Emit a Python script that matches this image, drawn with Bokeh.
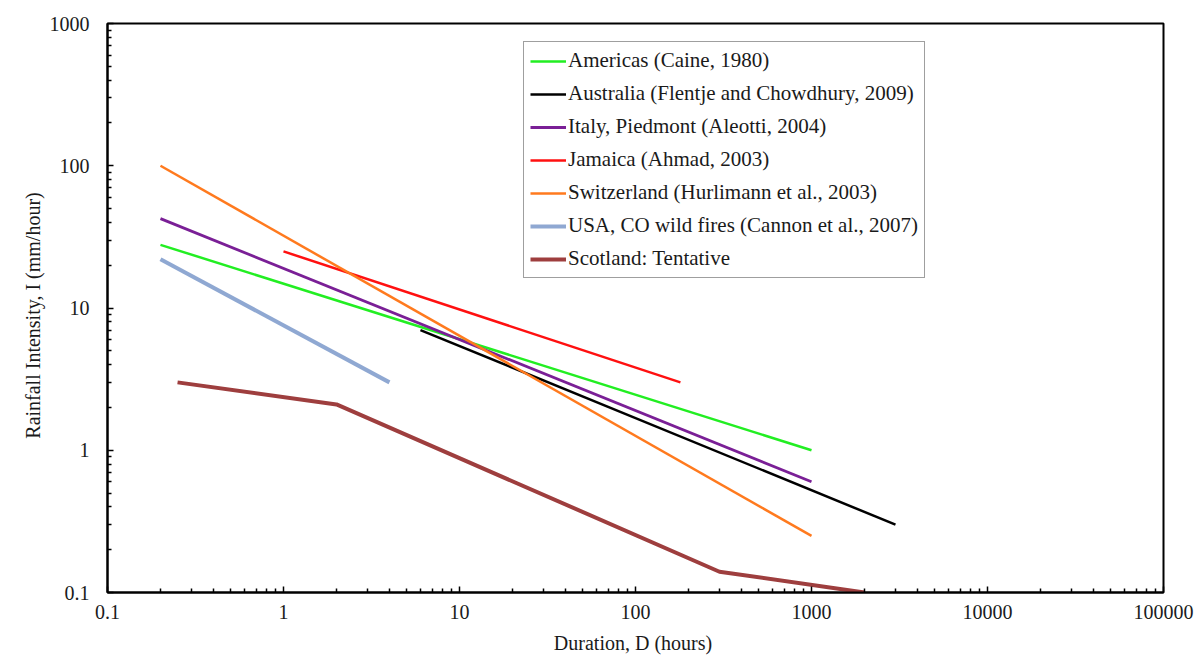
from bokeh.plotting import figure
from bokeh.models import FixedTicker, Range1d
from bokeh.embed import file_html
from bokeh.resources import INLINE

# Rainfall intensity-duration thresholds (duration in hours, intensity in mm/hour)
americas_d = [0.2, 1000]
americas_i = [27.8, 1.0]

australia_d = [6, 3000]
australia_i = [7.0, 0.3]

italy_d = [0.2, 1000]
italy_i = [42.5, 0.6]

jamaica_d = [1, 180]
jamaica_i = [25.0, 3.0]

switzerland_d = [0.2, 1000]
switzerland_i = [100.0, 0.25]

usa_d = [0.2, 4]
usa_i = [22.0, 3.0]

scotland_d = [0.25, 2, 300, 2000]
scotland_i = [3.0, 2.1, 0.14, 0.1]

x_ticks = [0.1, 1, 10, 100, 1000, 10000, 100000]
x_tick_labels = ["0.1", "1", "10", "100", "1000", "10000", "100000"]
y_ticks = [0.1, 1, 10, 100, 1000]
y_tick_labels = ["0.1", "1", "10", "100", "1000"]

FONT = "Liberation Serif"

p = figure(
    width=1202, height=662,
    x_axis_type="log", y_axis_type="log",
    x_range=Range1d(0.1, 100000), y_range=Range1d(0.1, 1000),
    output_backend="svg", toolbar_location=None,
    min_border_left=107, min_border_right=39,
    min_border_top=23, min_border_bottom=70,
)
p.background_fill_color = "white"
p.border_fill_color = "white"
p.outline_line_color = "black"
p.outline_line_width = 2
p.xgrid.visible = False
p.ygrid.visible = False


def minor_between(ticks):
    out = []
    for t in ticks[:-1]:
        out.extend(t * k for k in range(2, 10))
    return out


p.xaxis.ticker = FixedTicker(ticks=x_ticks, minor_ticks=minor_between(x_ticks))
p.yaxis.ticker = FixedTicker(ticks=y_ticks, minor_ticks=minor_between(y_ticks))
p.xaxis.major_label_overrides = {t: s for t, s in zip(x_ticks, x_tick_labels)}
p.yaxis.major_label_overrides = {t: s for t, s in zip(y_ticks, y_tick_labels)}

for ax in (p.xaxis[0], p.yaxis[0]):
    ax.axis_line_color = "black"
    ax.axis_line_width = 2
    ax.major_tick_line_color = "black"
    ax.minor_tick_line_color = "black"
    ax.major_tick_line_width = 1.5
    ax.minor_tick_line_width = 1.5
    ax.major_tick_in = 6
    ax.major_tick_out = 0
    ax.minor_tick_in = 4
    ax.minor_tick_out = 0
    ax.major_label_text_font = FONT
    ax.major_label_text_font_size = "20px"
    ax.major_label_text_font_style = "normal"
    ax.major_label_text_color = "#1a1a1a"
    ax.axis_label_text_font = FONT
    ax.axis_label_text_font_size = "20px"
    ax.axis_label_text_font_style = "normal"
    ax.axis_label_text_color = "#1a1a1a"

p.xaxis.axis_label = "Duration,  D (hours)"
p.yaxis.axis_label = "Rainfall  Intensity,  I  (mm/hour)"
p.xaxis.major_label_standoff = 12
p.xaxis.axis_label_standoff = 10
p.yaxis.major_label_standoff = 18
p.yaxis.axis_label_standoff = 3

series = [
    (americas_d, americas_i, "#22EE22", 2.5, "Americas (Caine, 1980)"),
    (australia_d, australia_i, "#000000", 2.5, "Australia (Flentje and Chowdhury, 2009)"),
    (italy_d, italy_i, "#7A1F96", 2.8, "Italy, Piedmont (Aleotti, 2004)"),
    (jamaica_d, jamaica_i, "#FF1010", 2.5, "Jamaica (Ahmad, 2003)"),
    (switzerland_d, switzerland_i, "#FF7A1E", 2.5, "Switzerland (Hurlimann et al., 2003)"),
    (usa_d, usa_i, "#8FA8D2", 4, "USA, CO wild fires (Cannon et al., 2007)"),
    (scotland_d, scotland_i, "#9E3E3E", 4, "Scotland: Tentative"),
]

for d, i, color, lw, name in series:
    p.line(d, i, line_color=color, line_width=lw, legend_label=name)

lg = p.legend[0]
lg.location = (416, 314)
lg.label_text_font = FONT
lg.label_text_font_size = "21px"
lg.label_text_color = "#1a1a1a"
lg.glyph_width = 36
lg.glyph_height = 20
lg.label_height = 20
lg.label_standoff = 2
lg.spacing = 8
lg.padding = 6
lg.margin = 0
lg.border_line_color = "#404040"
lg.border_line_width = 1.5
lg.background_fill_color = "white"
lg.background_fill_alpha = 1.0

open("out.html", "w").write(file_html(p, INLINE))
